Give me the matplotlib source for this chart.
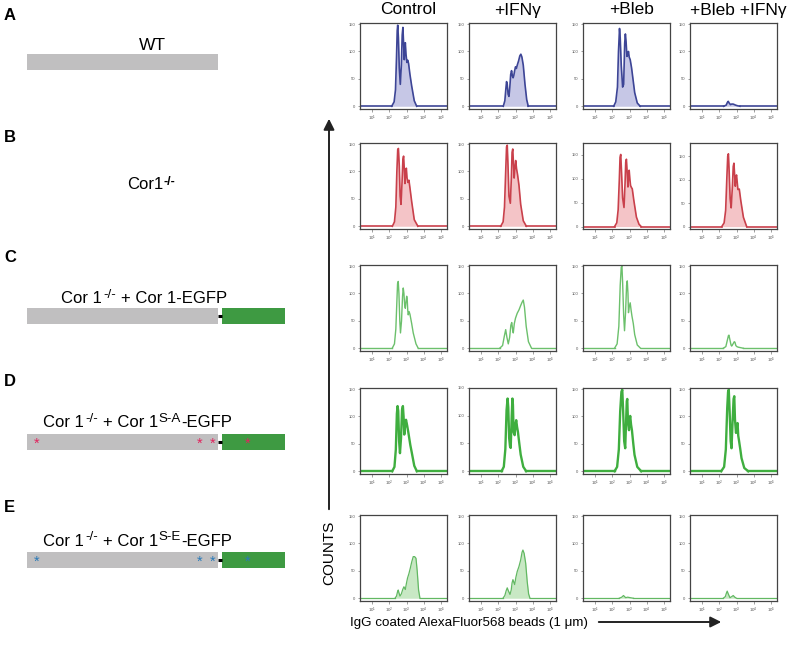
import numpy as np
from matplotlib import pyplot as plt

plt.rcParams['font.family'] = ['Liberation Sans', 'DejaVu Sans']
plt.rcParams['mathtext.fontset'] = 'custom'
plt.rcParams['mathtext.rm'] = 'Liberation Sans'
plt.rcParams['mathtext.it'] = 'Liberation Sans:italic'

W, H = 790, 651

conditions = ['Control', '+IFN\u03b3', '+Bleb', '+Bleb +IFN\u03b3']
x_ticks = [1e1, 1e2, 1e3, 1e4, 1e5]
y_ticks = [0, 50, 100, 150]

# log10 fluorescence / counts (one list per condition)
wt_x = [[2.14, 2.28, 2.36, 2.42, 2.46, 2.49, 2.53, 2.58, 2.64, 2.7, 2.75, 2.79, 2.83, 2.87, 2.9, 2.93,
         2.97, 3.02, 3.07, 3.12, 3.2, 3.3, 3.45, 3.59],
        [2.29, 2.38, 2.44, 2.48, 2.52, 2.57, 2.62, 2.67, 2.72, 2.77, 2.82, 2.86, 2.9, 2.95, 3.0, 3.05,
         3.1, 3.18, 3.25, 3.31, 3.37, 3.45, 3.55, 3.65, 3.74],
        [2.08, 2.2, 2.3, 2.36, 2.42, 2.46, 2.52, 2.6, 2.66, 2.72, 2.76, 2.8, 2.85, 2.9, 2.94, 2.98,
         3.04, 3.12, 3.2, 3.3, 3.45, 3.62],
        [2.25, 2.4, 2.47, 2.52, 2.57, 2.65, 2.72, 2.8, 2.88, 2.95, 3.05, 3.2]]
wt_y = [[0, 8, 30, 90, 138, 148, 125, 70, 40, 75, 130, 144, 115, 85, 105, 116,
         95, 80, 84, 78, 58, 37, 10, 0],
        [0, 10, 32, 45, 40, 22, 18, 35, 58, 65, 55, 52, 56, 65, 72, 69,
         75, 83, 92, 95, 90, 75, 40, 12, 0],
        [0, 8, 35, 100, 142, 125, 75, 35, 40, 115, 132, 118, 91, 95, 100, 90,
         85, 70, 50, 25, 6, 0],
        [0, 2, 7, 9, 6, 3, 4, 4, 3, 2, 1, 0]]

ko_x = [[2.18, 2.3, 2.38, 2.44, 2.49, 2.53, 2.58, 2.63, 2.68, 2.74, 2.79, 2.83, 2.87, 2.91, 2.95, 2.99,
         3.03, 3.08, 3.14, 3.2, 3.3, 3.45, 3.66],
        [2.14, 2.28, 2.36, 2.43, 2.48, 2.52, 2.56, 2.62, 2.7, 2.76, 2.8, 2.84, 2.88, 2.92, 2.97, 3.01,
         3.06, 3.12, 3.2, 3.3, 3.45, 3.63],
        [2.13, 2.26, 2.34, 2.41, 2.45, 2.49, 2.53, 2.6, 2.68, 2.74, 2.78, 2.82, 2.87, 2.91, 2.95, 2.98,
         3.02, 3.06, 3.11, 3.16, 3.25, 3.4, 3.55, 3.68],
        [2.14, 2.28, 2.37, 2.44, 2.49, 2.53, 2.57, 2.63, 2.69, 2.76, 2.81, 2.85, 2.89, 2.93, 2.97, 3.0,
         3.04, 3.08, 3.16, 3.25, 3.4, 3.59]]
ko_y = [[0, 8, 35, 100, 140, 142, 110, 55, 40, 80, 122, 128, 105, 78, 100, 106,
         88, 80, 84, 70, 45, 12, 0],
        [0, 8, 35, 100, 145, 148, 115, 55, 42, 90, 135, 141, 115, 88, 108, 120,
         105, 94, 75, 40, 10, 0],
        [0, 8, 35, 100, 145, 151, 120, 60, 40, 90, 135, 141, 110, 83, 110, 118,
         100, 86, 82, 79, 55, 20, 5, 0],
        [0, 8, 35, 105, 150, 155, 120, 60, 40, 85, 128, 135, 110, 86, 105, 110,
         95, 79, 80, 55, 20, 0]]

gfp_x = [[2.17, 2.3, 2.38, 2.44, 2.48, 2.52, 2.56, 2.61, 2.65, 2.71, 2.77, 2.81, 2.85, 2.89, 2.93, 2.97,
          3.01, 3.04, 3.07, 3.1, 3.15, 3.2, 3.3, 3.39, 3.55, 3.68],
         [2.08, 2.25, 2.35, 2.43, 2.5, 2.58, 2.66, 2.73, 2.78, 2.83, 2.87, 2.93, 3.0, 3.1, 3.2, 3.3,
          3.38, 3.45, 3.52, 3.62, 3.75, 3.93],
         [2.13, 2.28, 2.38, 2.46, 2.52, 2.56, 2.6, 2.66, 2.71, 2.77, 2.83, 2.87, 2.91, 2.94, 2.98, 3.04,
          3.09, 3.14, 3.22, 3.3, 3.45, 3.64],
         [2.23, 2.38, 2.47, 2.53, 2.56, 2.62, 2.68, 2.72, 2.8, 2.87, 2.91, 2.96, 3.02, 3.1, 3.25, 3.4]]
gfp_y = [[0, 8, 35, 85, 118, 122, 100, 50, 28, 50, 95, 110, 100, 80, 73, 85,
          95, 90, 70, 61, 67, 62, 45, 28, 8, 0],
         [0, 5, 22, 34, 20, 8, 20, 42, 47, 35, 28, 45, 55, 64, 70, 78,
          84, 88, 75, 40, 12, 0],
         [0, 8, 40, 115, 148, 150, 120, 60, 32, 65, 115, 123, 100, 65, 75, 83,
          70, 59, 45, 25, 6, 0],
         [0, 3, 15, 23, 24, 15, 6, 4, 8, 12, 11, 5, 3, 2, 1, 0]]

sa_x = [[2.17, 2.3, 2.38, 2.44, 2.48, 2.52, 2.57, 2.62, 2.68, 2.74, 2.79, 2.83, 2.87, 2.91, 2.97, 3.01,
         3.04, 3.1, 3.22, 3.3, 3.45, 3.6],
        [2.19, 2.32, 2.41, 2.48, 2.54, 2.58, 2.63, 2.68, 2.72, 2.78, 2.82, 2.85, 2.89, 2.95, 3.0, 3.04,
         3.09, 3.14, 3.22, 3.3, 3.45, 3.62],
        [2.13, 2.28, 2.38, 2.46, 2.53, 2.58, 2.63, 2.69, 2.75, 2.8, 2.84, 2.87, 2.91, 2.97, 3.01, 3.04,
         3.09, 3.14, 3.22, 3.29, 3.45, 3.68],
        [2.11, 2.28, 2.38, 2.46, 2.51, 2.55, 2.6, 2.66, 2.71, 2.77, 2.83, 2.87, 2.91, 2.97, 3.02, 3.06,
         3.1, 3.14, 3.22, 3.29, 3.45, 3.68]]
sa_y = [[0, 8, 40, 105, 119, 110, 55, 33, 60, 112, 119, 100, 67, 80, 94, 88,
         83, 72, 48, 35, 10, 0],
        [0, 8, 40, 110, 131, 115, 60, 45, 42, 100, 131, 120, 70, 65, 85, 92,
         80, 71, 50, 30, 8, 0],
        [0, 8, 40, 110, 145, 149, 110, 55, 42, 90, 128, 132, 90, 75, 95, 101,
         85, 75, 50, 30, 8, 0],
        [0, 8, 40, 115, 145, 149, 110, 55, 42, 90, 132, 137, 95, 70, 82, 88,
         65, 57, 40, 24, 6, 0]]

se_x = [[2.33, 2.42, 2.48, 2.52, 2.56, 2.62, 2.7, 2.78, 2.85, 2.93, 3.0, 3.06, 3.14, 3.22, 3.3, 3.39,
         3.47, 3.55, 3.62, 3.7, 3.78],
        [2.27, 2.38, 2.46, 2.52, 2.58, 2.68, 2.75, 2.8, 2.85, 2.95, 3.02, 3.1, 3.2, 3.3, 3.38, 3.43,
         3.5, 3.59, 3.68, 3.76, 3.84],
        [2.4, 2.55, 2.65, 2.78, 2.89, 3.05, 3.23],
        [2.23, 2.35, 2.42, 2.46, 2.52, 2.62, 2.72, 2.81, 2.9, 3.0]]
se_y = [[0, 4, 12, 15, 10, 4, 8, 16, 21, 16, 28, 37, 45, 55, 66, 76,
         76, 73, 50, 15, 0],
        [0, 5, 14, 19, 14, 7, 15, 28, 34, 25, 38, 49, 58, 70, 84, 88,
         82, 64, 30, 8, 0],
        [0, 2, 5, 1, 2, 1, 0],
        [0, 3, 10, 13, 8, 1, 3, 5, 2, 0]]

# top of the count axis of every panel
wt_top = [152, 152, 152, 152]
ko_top = [152, 152, 175, 178]
gfp_top = [152, 152, 152, 152]
sa_top = [152, 150, 152, 152]
se_top = [152, 152, 152, 152]

# construct schematics: coronin 1 part, linker, EGFP part (arbitrary units)
cor1_len = 191
linker_len = 4
egfp_len = 63
sa_sites = [10, 173, 186]
sa_egfp_site = 26

col_left = [360, 469, 583, 690]
row_top = [23, 143, 265, 388, 515]
pan_w, pan_h = 87, 86


def px_axes(fig, left, top, w, h):
    return fig.add_axes([left / W, 1 - (top + h) / H, w / W, h / H])


def draw_hist(ax, xs, ys, ytop, line, fill, lw):
    x = 10 ** np.array(xs)
    if fill is not None:
        ax.fill_between(x, 0, ys, color=fill, lw=0)
    ax.plot(x, ys, color=line, lw=lw, solid_joinstyle='round')
    ax.plot([10 ** 0.3, x[0]], [0, 0], color=line, lw=lw)
    ax.plot([x[-1], 10 ** 5.35], [0, 0], color=line, lw=lw)
    ax.set_xscale('log')
    ax.set_xlim(10 ** 0.3, 10 ** 5.35)
    ax.set_ylim(-5, ytop)
    ax.set_xticks(x_ticks)
    ax.set_xticklabels([r'$10^{%d}$' % k for k in range(1, 6)])
    ax.set_yticks(y_ticks)
    ax.set_yticklabels([str(v) for v in y_ticks])
    ax.tick_params(which='major', length=1.8, width=0.4, labelsize=3, pad=1.5, colors='#555555')
    ax.tick_params(which='minor', length=0.9, width=0.3, colors='#777777')
    ax.tick_params(axis='x', labelsize=3.2, pad=1.5)
    for sp in ax.spines.values():
        sp.set_color('#444444')
        sp.set_linewidth(0.9)


def rich_text(fig, bg, x, y, parts, fs=12, sup_scale=0.8, rise=5.5):
    # parts: (string, superscript?, gap before in px)
    r = fig.canvas.get_renderer()
    out = []
    for s, sup, gap in parts:
        x += gap
        if sup:
            t = bg.text(x, y - rise, s, fontsize=fs * sup_scale, va='baseline', ha='left')
        else:
            t = bg.text(x, y, s, fontsize=fs, va='baseline', ha='left')
        x += t.get_window_extent(r).width
        out.append(t)
    return out


def draw_construct(bg, y, sites=None, egfp_site=None, site_color=None, egfp=True, x0=27):
    bh = 16
    bg.add_patch(plt.Rectangle((x0, y), cor1_len, bh, color='#c0bfc0', lw=0))
    if not egfp:
        return
    bg.plot([x0 + cor1_len, x0 + cor1_len + linker_len], [y + bh / 2, y + bh / 2], color='black', lw=2.2,
            solid_capstyle='butt')
    gx = x0 + cor1_len + linker_len
    bg.add_patch(plt.Rectangle((gx, y), egfp_len, bh, color='#3e9a42', lw=0))
    if sites is not None:
        for s in sites:
            bg.text(x0 + s, y + bh / 2 + 2, '*', color=site_color, fontsize=10.5, ha='center', va='center')
        bg.text(gx + egfp_site, y + bh / 2 + 2, '*', color=site_color, fontsize=10.5, ha='center', va='center')


if __name__ == '__main__':
    fig = plt.figure(figsize=(W / 100, H / 100), dpi=100)
    bg = fig.add_axes([0, 0, 1, 1])
    bg.set_xlim(0, W)
    bg.set_ylim(H, 0)
    bg.axis('off')

    # left column: labels and constructs
    for letter, y in zip('ABCDE', [16, 137, 258, 382, 507]):
        bg.text(4, y, letter, fontsize=12, fontweight='bold', va='center', ha='left')

    bg.text(152, 46, 'WT', fontsize=12.5, ha='center', va='center')
    draw_construct(bg, 54, egfp=False)
    b_parts = rich_text(fig, bg, 127, 189, [('Cor1', False, 0), ('-/-', True, 0)], sup_scale=0.75, rise=4)
    b_parts[-1].set_fontweight('bold')

    rich_text(fig, bg, 61, 303, [('Cor 1', False, 0), ('-/-', True, 1), ('+ Cor 1-EGFP', False, 5)])
    draw_construct(bg, 308)
    rich_text(fig, bg, 43, 427, [('Cor 1', False, 0), ('-/-', True, 1), ('+ Cor 1', False, 5),
                                 ('S-A', True, 1), ('-EGFP', False, 0)])
    draw_construct(bg, 434, sa_sites, sa_egfp_site, '#e0245e')
    rich_text(fig, bg, 43, 546, [('Cor 1', False, 0), ('-/-', True, 1), ('+ Cor 1', False, 5),
                                 ('S-E', True, 1), ('-EGFP', False, 0)])
    draw_construct(bg, 552, sa_sites, sa_egfp_site, '#2a7ab8')

    # axis captions
    bg.annotate('', xy=(329, 116), xytext=(329, 512),
                arrowprops=dict(arrowstyle='-|>', lw=1.4, color='#222222', mutation_scale=16))
    bg.text(329, 553, 'COUNTS', rotation=90, fontsize=11, ha='center', va='center')
    bg.text(350, 623, 'IgG coated AlexaFluor568 beads (1 \u03bcm)', fontsize=9.6, ha='left', va='center')
    bg.annotate('', xy=(724, 622), xytext=(596, 622),
                arrowprops=dict(arrowstyle='-|>', lw=1.4, color='#222222', mutation_scale=16))

    for j, name in enumerate(conditions):
        bg.text(col_left[j] + pan_w / 2 + 5, 10, name, fontsize=12.5, ha='center', va='center')

    rows = [(wt_x, wt_y, wt_top, '#3d4596', '#c6c7e6', 1.2),
            (ko_x, ko_y, ko_top, '#c9404b', '#f4c4c7', 1.2),
            (gfp_x, gfp_y, gfp_top, '#6cc06c', None, 1.0),
            (sa_x, sa_y, sa_top, '#3fae3f', None, 1.7),
            (se_x, se_y, se_top, '#62b862', '#c8e8c4', 0.9)]

    for i, (xs, ys, tops, line, fill, lw) in enumerate(rows):
        for j in range(4):
            ax = px_axes(fig, col_left[j], row_top[i], pan_w, pan_h)
            draw_hist(ax, xs[j], ys[j], tops[j], line, fill, lw)

    fig.savefig('out.png', dpi=100)
